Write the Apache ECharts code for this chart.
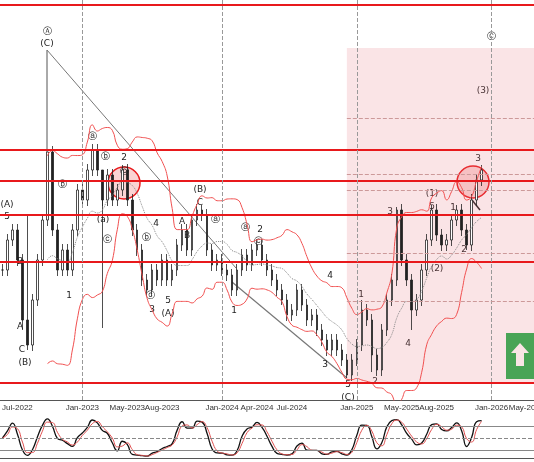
<!DOCTYPE html>
<html>
<head>
<meta charset="utf-8">
<script src="https://cdn.jsdelivr.net/npm/echarts@6/dist/echarts.min.js"></script>
<style>html,body{margin:0;padding:0;background:#fff}#chart{width:534px;height:462px}</style>
</head>
<body>
<div id="chart"></div>
<script>
// biweekly closes, mid-Jun 2022 .. Dec 2025 (price units)
const closes = [32.5,40,42.5,35,20,13.75,25,35,45,62,42.5,32.5,37.5,32.5,42.5,52.5,50,57.5,62.5,57.5,50,56.25,50,52.5,57.5,50,42.5,37.5,30,27.5,32.5,30,35,30,32.5,38.75,42.5,37.5,45,47.5,46.25,37.5,33.75,35,32.5,31.25,27.5,32.5,36.25,33.75,37.5,38.75,35,32.5,30,27.5,25,21.25,22.5,27.5,23.75,20,21.25,17.5,15,12.5,15,12.5,10,6.25,10,13.75,22.5,20,11.25,7.5,17.5,25,30,47.5,35,30,22.5,25,32.5,40,47.5,41.25,38.75,40,45,47.5,42.5,38.75,50,55,57.5];
const highs = {5:46,20:18,9:62,18:64,24:58.75,40:48.75,72:25,79:48.25,86:48.75,91:48.75,96:58.75};
const lows = {4:17.5,5:12.5,56:23.75,69:5.5,74:7,82:17.5,93:37.5};
const nCats = 107;
const tickIdx = [3,16,25,32,44,51,58,71,80,87,98,105];
const tickText = ["Jul-2022","Jan-2023","May-2023","Aug-2023","Jan-2024","Apr-2024","Jul-2024","Jan-2025","May-2025","Aug-2025","Jan-2026","May-2026"];
const redLevels = [98.75, 62.5, 54.75, 46.25, 34.5, 4.25];
const dottedLevels = [70.5, 56.5, 52.5, 36.75, 24.75];
const yearLines = [16, 43.6, 71, 98];

const cats = Array.from({length: nCats}, (_, i) => String(i));
const candles = closes.map((c, i) => {
  const o = i ? closes[i - 1] : c;
  return [o, c, lows[i] ?? Math.min(o, c) - 1.5, highs[i] ?? Math.max(o, c) + 1.5];
});

function bands(p) {
  const up = [], mid = [], lo = [];
  closes.forEach((_, i) => {
    if (i < p - 1) { up.push(null); mid.push(null); lo.push(null); return; }
    const w = closes.slice(i - p + 1, i + 1);
    const m = w.reduce((a, b) => a + b, 0) / p;
    const sd = Math.sqrt(w.reduce((a, b) => a + (b - m) ** 2, 0) / p);
    up.push(m + 2 * sd); mid.push(m); lo.push(m - 2 * sd);
  });
  return { up, mid, lo };
}
const bb = bands(10);

function stoch(p) {
  const raw = closes.map((c, i) => {
    const s = Math.max(0, i - p + 1);
    const hi = Math.max(...candles.slice(s, i + 1).map(d => d[3]));
    const lo = Math.min(...candles.slice(s, i + 1).map(d => d[2]));
    return hi === lo ? 50 : (c - lo) / (hi - lo) * 100;
  });
  const sma = (a, n) => a.map((_, i) => { const w = a.slice(Math.max(0, i - n + 1), i + 1); return w.reduce((x, y) => x + y, 0) / w.length; });
  const k = sma(raw, 2);
  return { k, d: sma(k, 2) };
}
const st = stoch(7);

const chart = echarts.init(document.getElementById("chart"));
const labels = [
  ["Ⓐ",47,32],["(C)",47,44],["(A)",7,205],["5",7,217],["B",20,262],["A",20,327],["C",22,350],["(B)",25,363],
  ["2",124,158],["(B)",200,190],["C",200,203],["4",156,224],["A",182,222],["B",187,236],["2",260,230],
  ["1",69,296],["3",152,310],["5",168,301],["(A)",168,314],["1",234,311],["3",325,365],["4",330,276],
  ["5",348,385],["(C)",348,398],["1",361,295],["2",375,382],["3",390,212],["4",408,344],["(1)",432,194],["5",432,207],
  ["1",453,208],["2",464,250],["(2)",437,269],["3",478,159],["(3)",483,91],["Ⓒ",491,37],
  ["ⓐ",92,137],["ⓑ",105,157],["ⓑ",62,185],["ⓒ",124,172],["(a)",103,220],["ⓒ",107,240],["ⓑ",146,238],["ⓒ",150,296],["ⓐ",215,220],["ⓐ",245,228],["ⓒ",258,242]
];
chart.setOption({
  animation: false,
  grid: [
    { left: 0, right: 0, top: 0, height: 400, outerBoundsMode: "none", containLabel: false },
    { left: 0, right: 0, top: 418, height: 40, outerBoundsMode: "none", containLabel: false }
  ],
  xAxis: [
    { type: "category", data: cats, gridIndex: 0,
      axisLine: { lineStyle: { color: "#555" } }, axisTick: { show: false },
      axisLabel: { interval: (i) => tickIdx.includes(i), formatter: (v) => tickText[tickIdx.indexOf(+v)] || "", fontSize: 8, color: "#333", margin: 4 } },
    { type: "category", data: cats, gridIndex: 1, axisLabel: { show: false }, axisTick: { show: false }, axisLine: { lineStyle: { color: "#555" } } }
  ],
  yAxis: [
    { type: "value", min: 0, max: 100, gridIndex: 0, show: false },
    { type: "value", min: 0, max: 100, gridIndex: 1, show: false }
  ],
  series: [
    { type: "candlestick", data: candles, barWidth: 2,
      itemStyle: { color: "#fff", color0: "#222", borderColor: "#222", borderColor0: "#222", borderWidth: 0.8 },
      markLine: { silent: true, symbol: "none", label: { show: false },
        data: [
          ...redLevels.map(v => ({ yAxis: v, lineStyle: { color: "#e8191c", width: 2, type: "solid" } })),
          ...yearLines.map(v => ({ xAxis: v, lineStyle: { color: "#999", width: 1, type: "dashed" } })),
          ...dottedLevels.map(v => [{ xAxis: "69", yAxis: v, lineStyle: { color: "#c99", width: 1, type: "dashed" } }, { x: 534, yAxis: v }])
        ] },
      markArea: { silent: true, itemStyle: { color: "rgba(232,120,130,0.2)" },
        data: [[{ xAxis: "69", yAxis: 4.25 }, { x: 534, yAxis: 88 }]] }
    },
    { type: "line", data: bb.up, symbol: "none", smooth: true, lineStyle: { color: "#f05050", width: 1 } },
    { type: "line", data: bb.lo, symbol: "none", smooth: true, lineStyle: { color: "#f05050", width: 1 } },
    { type: "line", data: bb.mid, symbol: "none", smooth: true, lineStyle: { color: "#888", width: 1, type: "dotted" } },
    { type: "line", data: st.k, xAxisIndex: 1, yAxisIndex: 1, symbol: "none", smooth: true, lineStyle: { color: "#111", width: 1.3 },
      markLine: { silent: true, symbol: "none", label: { show: false },
        data: [{ yAxis: 20 }, { yAxis: 80 }, { yAxis: 50, lineStyle: { type: "dashed" } }], lineStyle: { color: "#888", width: 1, type: "solid" } } },
    { type: "line", data: st.d, xAxisIndex: 1, yAxisIndex: 1, symbol: "none", smooth: true, lineStyle: { color: "#e05050", width: 1 } }
  ],
  graphic: [
    { type: "line", shape: { x1: 47, y1: 50, x2: 47, y2: 152 }, style: { stroke: "#555", lineWidth: 1 } },
    { type: "line", shape: { x1: 47, y1: 50, x2: 236, y2: 268 }, style: { stroke: "#777", lineWidth: 1 } },
    { type: "line", shape: { x1: 232, y1: 282, x2: 347, y2: 378 }, style: { stroke: "#777", lineWidth: 1.2 } },
    { type: "circle", shape: { cx: 124, cy: 183, r: 16 }, style: { fill: "rgba(240,110,110,0.3)", stroke: "#e8191c", lineWidth: 1.5 } },
    { type: "circle", shape: { cx: 473, cy: 182, r: 16 }, style: { fill: "rgba(240,110,110,0.3)", stroke: "#e8191c", lineWidth: 1.5 } },
    { type: "line", shape: { x1: 472, y1: 200, x2: 480, y2: 210 }, style: { stroke: "#222", lineWidth: 1.5 } },
    { type: "rect", shape: { x: 506, y: 333, width: 30, height: 46 }, style: { fill: "#22b04b" } },
    { type: "polygon", shape: { points: [[520, 343], [511, 353], [516, 353], [516, 366], [524, 366], [524, 353], [529, 353]] }, style: { fill: "#fff" } },
    ...labels.map(([t, x, y]) => ({ type: "text", x, y, style: { text: t, fill: "#222", font: "9px 'DejaVu Sans'", align: "center", verticalAlign: "middle" } }))
  ]
});
</script>
</body>
</html>
